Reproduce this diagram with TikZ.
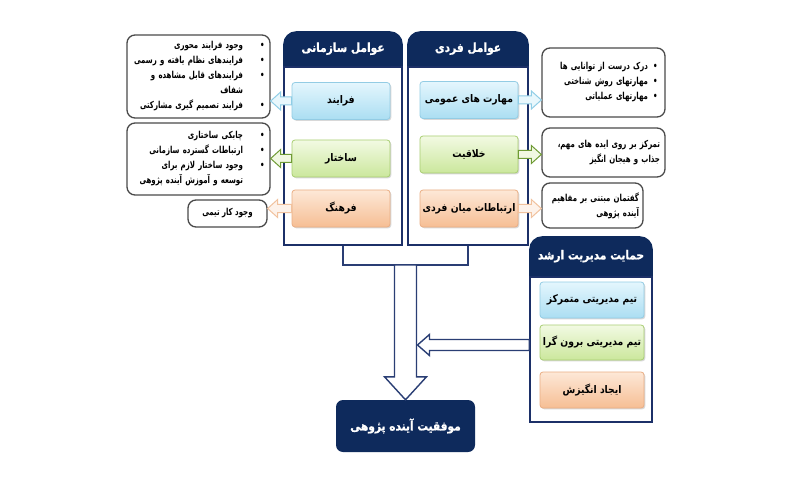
\documentclass[tikz,border=0pt]{standalone}
\usepackage{fontspec}
\newfontfamily\fah[Script=Arabic, FakeStretch=0.85, FakeBold=1]{DejaVu Sans}
\newfontfamily\fai[Script=Arabic, FakeStretch=0.88]{DejaVu Sans}
\newfontfamily\fab[Script=Arabic, FakeStretch=0.73]{DejaVu Sans}
\TeXXeTstate=1
\usetikzlibrary{calc,shadows}
\definecolor{navy}{HTML}{0E2A5C}
\definecolor{pborder}{HTML}{1C3068}
\definecolor{bluetop}{HTML}{E4F6FD}
\definecolor{bluebot}{HTML}{ABDEF2}
\definecolor{blueedge}{HTML}{93CCE4}
\definecolor{greentop}{HTML}{F2FAE3}
\definecolor{greenbot}{HTML}{CBE79C}
\definecolor{greenedge}{HTML}{A9CE72}
\definecolor{orangetop}{HTML}{FDE8D7}
\definecolor{orangebot}{HTML}{F6BE94}
\definecolor{orangeedge}{HTML}{EAAE84}
\definecolor{boxedge}{HTML}{4A4A4A}
\definecolor{arrblue}{HTML}{8FCDE6}
\definecolor{arrbluef}{HTML}{E8F7FC}
\definecolor{arrgreen}{HTML}{6F9B35}
\definecolor{arrgreenf}{HTML}{F1F8E2}
\definecolor{arrorange}{HTML}{F1C29E}
\definecolor{arrorangef}{HTML}{FDF2EA}
\definecolor{bigarr}{HTML}{2A3E74}
\newcommand\RL[1]{\beginR#1\endR}
\newcommand\bl[2]{\mbox{\RL{#2}\makebox[#1][r]{•}}}
\newcommand\cl[2]{\mbox{\RL{#2}\makebox[#1]{}}}
\newcommand\plainline[1]{\mbox{\RL{#1}}}
\newcommand\hdrfont{\fah\bfseries\fontsize{12.5}{15}\selectfont}
\newcommand\itemfont{\fai\bfseries\fontsize{10.5}{12}\selectfont}
\newcommand\bulfont{\fab\bfseries\fontsize{9.6}{15}\selectfont}
\newcommand\blockarrow[6]{%
  \draw[#1] let \p1=#2, \p2=#3, \n1={atan2(\y2-\y1,\x2-\x1)}, \n2={veclen(\x2-\x1,\y2-\y1)} in
  {[shift={(\p1)}, rotate=\n1] (0,#4) -- (\n2-#6,#4) -- (\n2-#6,#5) -- (\n2,0) -- (\n2-#6,-#5) -- (\n2-#6,-#4) -- (0,-#4) -- cycle};}
\begin{document}
\begin{tikzpicture}[x=1pt,y=-1pt,
  panelbody/.style={draw=pborder, line width=1.6pt, fill=white, inner sep=0pt},
  hdrtxt/.style={text=white, font=\hdrfont, inner sep=1pt},
  itemnode/.style={rounded corners=3pt, minimum width=98pt, minimum height=37pt, inner sep=2pt,
    font=\itemfont, text=black, line width=0.8pt,
    drop shadow={shadow xshift=1.3pt, shadow yshift=-1.3pt, opacity=.25, fill=black!60}},
  bluefill/.style={draw=blueedge, top color=bluetop, bottom color=bluebot},
  greenfill/.style={draw=greenedge, top color=greentop, bottom color=greenbot},
  orangefill/.style={draw=orangeedge, top color=orangetop, bottom color=orangebot},
  bulbox/.style={draw=boxedge, line width=1.3pt, fill=white, rounded corners=8pt, font=\bulfont, align=right, inner ysep=2pt},
  sarrblue/.style={draw=arrblue, fill=arrbluef, line width=1pt},
  sarrgreen/.style={draw=arrgreen, fill=arrgreenf, line width=1pt},
  sarrorange/.style={draw=arrorange, fill=arrorangef, line width=1pt},
  bigarrow/.style={draw=bigarr, fill=white, line width=1.4pt},
  bracketline/.style={draw=bigarr, line width=1.4pt},
  navybox/.style={fill=navy, rounded corners=7pt, text=white, font=\hdrfont, minimum width=139pt, minimum height=52pt}
]
\useasboundingbox (0,0) rectangle (800,489);
\fill[white] (0,0) rectangle (800,489);

% panels
\node[panelbody, minimum width=118pt, minimum height=178pt] (panL) at (343,156) {};
\node[panelbody, minimum width=120pt, minimum height=178pt] (panR) at (468,156) {};
\node[panelbody, minimum width=122pt, minimum height=145pt] (panM) at (591,349.5) {};
\foreach \p/\h in {panL/35, panR/35, panM/40}{
  \fill[navy, rounded corners=13pt] ($(\p.north west)+(0,-\h)$) rectangle (\p.north east);
  \fill[navy] ($(\p.north west)+(0,-15)$) rectangle (\p.north east);
}
\node[hdrtxt] (hL) at ($(panL.north)+(0,-17.5)$) {\RL{عوامل سازمانی}};
\node[hdrtxt] (hR) at ($(panR.north)+(0,-17.5)$) {\RL{عوامل فردی}};
\node[hdrtxt] (hM) at ($(panM.north)+(0,-20)$) {\RL{حمایت مدیریت ارشد}};

% items
\node[itemnode, bluefill] (iL1) at (341,101) {\RL{فرایند}};
\node[itemnode, greenfill] (iL2) at (341,158.5) {\RL{ساختار}};
\node[itemnode, orangefill] (iL3) at (341,208.5) {\RL{فرهنگ}};
\node[itemnode, bluefill] (iR1) at (469,100) {\RL{مهارت های عمومی}};
\node[itemnode, greenfill] (iR2) at (469,154.5) {\RL{خلاقیت}};
\node[itemnode, orangefill] (iR3) at (469,208.5) {\RL{ارتباطات میان فردی}};
\node[itemnode, bluefill, minimum width=104pt, minimum height=36pt] (iM1) at (592,300) {\RL{تیم مدیریتی متمرکز}};
\node[itemnode, greenfill, minimum width=104pt, minimum height=35pt] (iM2) at (592,342.5) {\RL{تیم مدیریتی برون گرا}};
\node[itemnode, orangefill, minimum width=104pt, minimum height=36pt] (iM3) at (592,390) {\RL{ایجاد انگیزش}};

% bullet boxes
\node[bulbox, text width=132pt, inner xsep=5.5pt, minimum height=83pt] (bL1) at (198.5,76.5) {%
\bl{21.5pt}{وجود فرایند محوری}\\
\bl{21.5pt}{فرایندهای نظام یافته و رسمی}\\
\bl{21.5pt}{فرایندهای قابل مشاهده و}\\
\cl{21.5pt}{شفاف}\\
\bl{21.5pt}{فرایند تصمیم گیری مشارکتی}};
\node[bulbox, text width=132pt, inner xsep=5.5pt, minimum height=72pt] (bL2) at (198.5,159) {%
\bl{21.5pt}{چابکی ساختاری}\\
\bl{21.5pt}{ارتباطات گسترده سازمانی}\\
\bl{21.5pt}{وجود ساختار لازم برای}\\
\cl{21.5pt}{توسعه و آموزش آینده پژوهی}};
\node[bulbox, align=center, minimum width=79pt, minimum height=27pt] (bL3) at (227.5,213.5) {\plainline{وجود کار تیمی}};
\node[bulbox, text width=108pt, inner xsep=7.5pt, minimum height=69pt] (bR1) at (603.5,82.5) {%
\bl{9.5pt}{درک درست از توانایی ها}\\
\bl{9.5pt}{مهارتهای روش شناختی}\\
\bl{9.5pt}{مهارتهای عملیاتی}};
\node[bulbox, text width=113pt, inner xsep=5pt, minimum height=49pt] (bR2) at (603.5,152.5) {%
\plainline{تمرکز بر روی ایده های مهم،}\\
\plainline{جذاب و هیجان انگیز}};
\node[bulbox, text width=93pt, inner xsep=4pt, minimum height=45pt] (bR3) at (592.5,205.5) {%
\plainline{گفتمان مبتنی بر مفاهیم}\\
\plainline{آینده پژوهی}};

% small arrows
\blockarrow{sarrblue}{(iL1.west)}{(iL1.west -| bL1.east)}{4}{9}{10}
\blockarrow{sarrgreen}{(iL2.west)}{(iL2.west -| bL2.east)}{4}{9}{10}
\blockarrow{sarrorange}{(iL3.west)}{(iL3.west -| bL3.east)}{4}{9}{10}
\blockarrow{sarrblue}{(iR1.east)}{(iR1.east -| bR1.west)}{4}{9}{10}
\blockarrow{sarrgreen}{(iR2.east)}{(iR2.east -| bR2.west)}{4}{9}{10}
\blockarrow{sarrorange}{(iR3.east)}{(iR3.east -| bR3.west)}{4}{9}{10}

% bottom node
\node[navybox] (bot) at (405.5,426) {\RL{موفقیت آینده پژوهی}};

% bracket and big arrows
\draw[bracketline] (panL.south) -- ++(0,19) coordinate (bk) -| (panR.south);
\coordinate (jn) at ($(bk)+(62.5,0)$);
\blockarrow{bigarrow}{(jn)}{(jn |- bot.north)}{11}{21}{23}
\coordinate (mtail) at ($(panM.west)+(0,-4.5)$);
\coordinate (mtip) at ($(jn)+(12,0)$);
\blockarrow{bigarrow}{(mtail)}{(mtip |- mtail)}{5.5}{10.5}{12}
\end{tikzpicture}
\end{document}
